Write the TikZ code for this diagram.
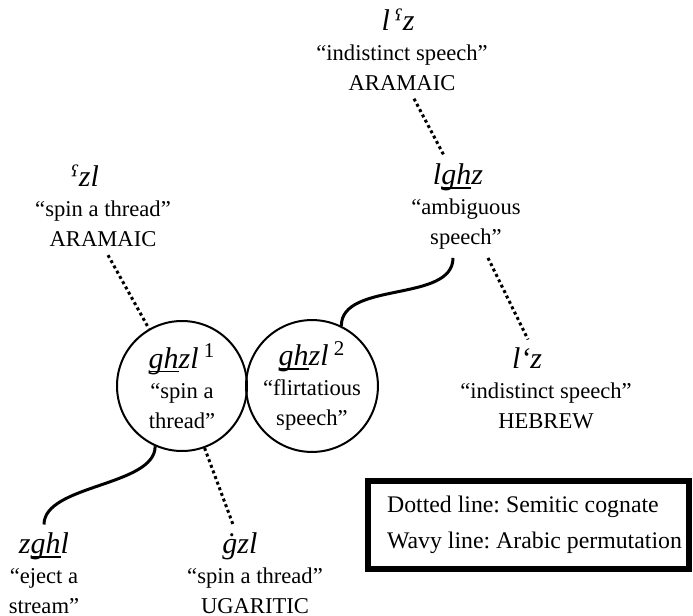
\documentclass[tikz,border=0pt]{standalone}
\usepackage{fontspec}
\setmainfont{Liberation Serif}
\newfontfamily\ipafont{DejaVu Serif}
\usetikzlibrary{positioning}

\newcommand{\headfont}{\fontsize{15}{15}\selectfont\itshape}
\newcommand{\glossfont}{\fontsize{11.3}{15}\selectfont}
\newcommand{\ayin}{{\ipafont\fontsize{14}{15}\selectfont ˁ}}
% underline through the descender of the g
\newcommand{\ulgh}[1]{\setbox0\hbox{#1}\rlap{\rule[-2.2pt]{\wd0}{0.9pt}}\box0}

\begin{document}
\frenchspacing
\begin{tikzpicture}[x=0.5pt, y=0.5pt]
	\tikzstyle{entry}=[anchor=north, align=center, inner sep=4pt, font=\glossfont]
	\tikzstyle{root}=[circle, draw, line width=1pt, minimum size=65pt, inner sep=0pt, align=center, font=\glossfont]
	\tikzstyle{cognate}=[line width=1.5pt, dash pattern=on 1.5pt off 1.5pt]
	\tikzstyle{permut}=[line width=1.5pt]
	
	\useasboundingbox (0,0) rectangle (693,-616);
	
	\node[entry] (lazA) at (402,0) {{\headfont l\,\ayin z\hspace*{4pt}}\\“indistinct speech”\\ARAMAIC};
	\node[entry] (azl) at (103,-156.5) {{\headfont \ayin zl\hspace*{18pt}}\\“spin a thread”\\ARAMAIC};
	\node[entry] (lghz) at (466,-155.5) {{\headfont l\ulgh{gh}z\hspace*{8pt}}\\“ambiguous\\speech”};
	\node[entry] (lazH) at (546,-339.5) {{\headfont lʻz\hspace*{19pt}}\\“indistinct speech”\\HEBREW};
	
	\node[root] (ghzlA) at (182,-386) {{\headfont \ulgh{gh}zl\,{\upshape\textsuperscript{1}}}\\“spin a\\thread”};
	\node[root] (ghzlB) at (312,-386) {{\headfont \ulgh{gh}zl\,{\upshape\textsuperscript{2}}}\\“flirtatious\\speech”};
	
	\node[entry] (zghl) at (44,-524.5) {{\headfont z\ulgh{gh}l}\\“eject a\\stream”};
	\node[entry] (gzl) at (255,-524.5) {{\headfont ġzl\hspace*{15pt}}\\“spin a thread”\\UGARITIC};
	
	\node[draw, line width=3pt, minimum width=160.5pt, minimum height=44pt, align=left,
	      font=\fontsize{11.9}{18}\selectfont] (legend) at (528.5,-525)
	      {\hspace*{6pt}Dotted line: Semitic cognate\\\hspace*{6pt}Wavy line: Arabic permutation};
	
	\draw[cognate] ([xshift=6pt]lazA.south) -- ([xshift=-11pt]lghz.north);
	\draw[cognate] ([xshift=11pt]lghz.south) -- ([xshift=-9pt]lazH.north);
	\draw[permut] ([xshift=-6.5pt]lghz.south) .. controls +(0,-45) and +(0,45) .. (ghzlB.64);
	
	\draw[cognate] ([xshift=2.5pt]azl.south) -- (ghzlA.120);
	\draw[permut] (ghzlA.246) .. controls +(0,-40) and +(0,40) .. (zghl.north);
	\draw[cognate] (ghzlA.290) -- ([xshift=-11pt]gzl.north);
\end{tikzpicture}
\end{document}
